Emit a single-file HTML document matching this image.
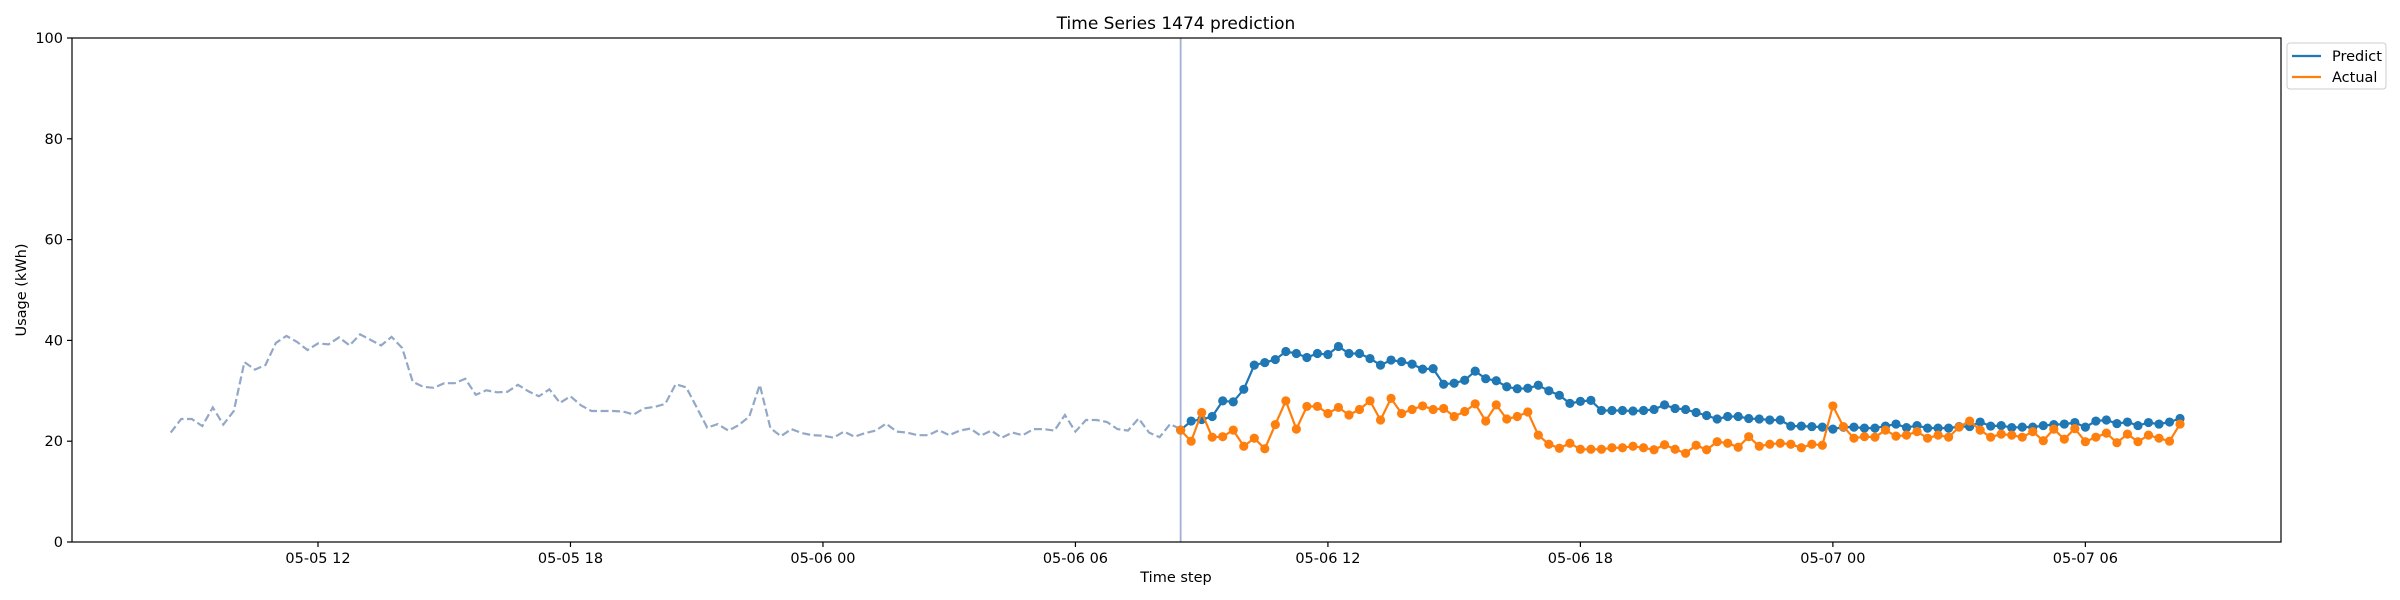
<!DOCTYPE html>
<html><head><meta charset="utf-8"><style>
html,body{margin:0;padding:0;background:#fff;}
svg{display:block;font-family:"DejaVu Sans","Liberation Sans",sans-serif;}
</style></head><body>
<svg id="chart" width="2400" height="600" viewBox="0 0 2400 600">
<rect x="0" y="0" width="2400" height="600" fill="#fff"/>
<text x="1176" y="29" text-anchor="middle" font-size="17" fill="#000">Time Series 1474 prediction</text>
<text x="1176" y="582" text-anchor="middle" font-size="14.5" fill="#000">Time step</text>
<text transform="translate(26,290) rotate(-90)" text-anchor="middle" font-size="14.5" fill="#000">Usage (kWh)</text>
<g id="marks"></g>
<rect x="72" y="38" width="2209" height="504" fill="none" stroke="#000" stroke-width="1.2"/>
<g>
<rect x="2287" y="43" width="99" height="46" rx="3" fill="#fff" stroke="#ccc" stroke-width="1"/>
<line x1="2292" y1="56" x2="2321" y2="56" stroke="#1f77b4" stroke-width="2.2"/>
<text x="2332" y="61" font-size="14.5">Predict</text>
<line x1="2292" y1="77" x2="2321" y2="77" stroke="#ff7f0e" stroke-width="2.2"/>
<text x="2332" y="82" font-size="14.5">Actual</text>
</g>
</svg>
<script>
const historyValues=[21.7,24.4,24.4,23,26.7,23.3,26,35.7,34.2,35.1,39.5,40.9,39.7,38.1,39.4,39.2,40.6,39,41.2,40.1,39,40.7,38.5,31.8,30.8,30.6,31.5,31.5,32.4,29.2,30.1,29.7,29.8,31.2,29.9,28.9,30.3,27.6,28.9,27.1,26,26,26,25.9,25.3,26.5,26.8,27.4,31.3,30.7,26.7,22.7,23.4,22.1,23.2,24.9,31.2,22.6,21.0,22.4,21.6,21.2,21.1,20.7,21.9,20.9,21.6,22.1,23.5,21.9,21.7,21.2,21.2,22.2,21.2,22.1,22.5,21.1,22.1,20.7,21.7,21.2,22.4,22.4,22.1,25.2,21.9,24.2,24.2,23.8,22.4,22.1,24.5,21.7,20.8,23.4,22.4];
const predictValues=[22.2,24.0,24.3,24.9,28.0,27.8,30.3,35.1,35.6,36.2,37.8,37.4,36.6,37.4,37.2,38.8,37.4,37.4,36.4,35.1,36.1,35.8,35.3,34.3,34.4,31.3,31.5,32.1,33.9,32.4,32.0,30.8,30.4,
30.5,31.1,30.0,29.1,27.5,27.9,28.1,26.1,26.1,26.1,26.0,26.1,26.3,27.2,26.5,26.3,25.7,25.1,24.4,24.9,24.9,24.5,24.4,24.2,24.2,23.0,23.0,22.9,22.8,22.4,22.8,22.8,
22.6,22.6,23.0,23.4,22.7,23.1,22.6,22.6,22.6,22.9,22.9,23.8,23.0,23.1,22.7,22.8,22.8,23.1,23.3,23.4,23.7,22.8,24.0,24.2,23.5,23.8,23.1,23.7,23.4,23.8,24.5];
const actualValues=[22.2,20.0,25.7,20.8,20.9,22.2,19.0,20.6,18.5,23.3,28.0,22.4,26.9,26.9,25.5,26.7,25.2,26.3,28.0,24.2,28.5,25.5,26.3,27.0,26.3,26.5,24.9,25.9,27.4,24.0,27.2,24.4,24.9,
25.8,21.2,19.4,18.6,19.6,18.4,18.4,18.4,18.7,18.7,19.0,18.7,18.3,19.3,18.4,17.6,19.2,18.3,19.9,19.6,18.8,20.9,19.0,19.4,19.6,19.4,18.7,19.4,19.2,27.0,22.9,20.6,
20.9,20.8,22.2,21.0,21.2,21.9,20.6,21.2,20.8,22.8,24.0,22.2,20.8,21.4,21.2,20.8,21.9,20.1,22.4,20.4,22.5,19.9,20.8,21.6,19.7,21.4,19.9,21.2,20.6,20.0,23.4];
const yTicks=[0,20,40,60,80,100];
const xTickHours=[12,18,24,30,36,42];
const xTickLabels=["05-05 12","05-05 18","05-06 00","05-06 06","05-06 12","05-06 18"];
const xTickHours2=[48,54];
const xTickLabels2=["05-07 00","05-07 06"];
const historyStartHour=8.5;
const forecastStartHour=32.5;
const stepHours=0.25;

const NS="http://www.w3.org/2000/svg";
const g=document.getElementById('marks');
function X(h){return 318+(h-12)*42.08;}
function Y(v){return 542-v*5.04;}
function mk(tag,attrs){const e=document.createElementNS(NS,tag);for(const k in attrs)e.setAttribute(k,attrs[k]);g.appendChild(e);return e;}

yTicks.forEach(function(t){
  const l=mk('line',{x1:67,x2:72,y1:Y(t),y2:Y(t),stroke:'#000','stroke-width':1.2});
  
  
  const tx=mk('text',{x:63,y:Y(t)+5,'text-anchor':'end','font-size':14.5});
  tx.textContent=t;
  
  
});
const allH=xTickHours.concat(xTickHours2),allL=xTickLabels.concat(xTickLabels2);
allH.forEach(function(h,i){
  const l=mk('line',{x1:X(h),x2:X(h),y1:542,y2:547,stroke:'#000','stroke-width':1.2});
  
  
  const tx=mk('text',{x:X(h),y:563,'text-anchor':'middle','font-size':14.5});
  tx.textContent=allL[i];
  
  
});

function pts(vals,start){return vals.map(function(v,i){return X(start+i*stepHours).toFixed(1)+','+Y(v).toFixed(1);}).join(' ');}
const hist=mk('polyline',{points:pts(historyValues,historyStartHour),fill:'none',stroke:'#92a8c6','stroke-width':2.2,'stroke-dasharray':'8,3.5'});



const vl=mk('line',{x1:X(forecastStartHour),x2:X(forecastStartHour),y1:38,y2:542,stroke:'#a3b0d3','stroke-width':1.8});



function series(vals,color,name){
  const pl=mk('polyline',{points:pts(vals,forecastStartHour),fill:'none',stroke:color,'stroke-width':2.2});
  
  
  vals.forEach(function(v,i){
    const c=mk('circle',{cx:X(forecastStartHour+i*stepHours),cy:Y(v),r:4.6,fill:color});
    
    
  });
}
series(predictValues,'#1f77b4','predict');
series(actualValues,'#ff7f0e','actual');
</script>
</body></html>
